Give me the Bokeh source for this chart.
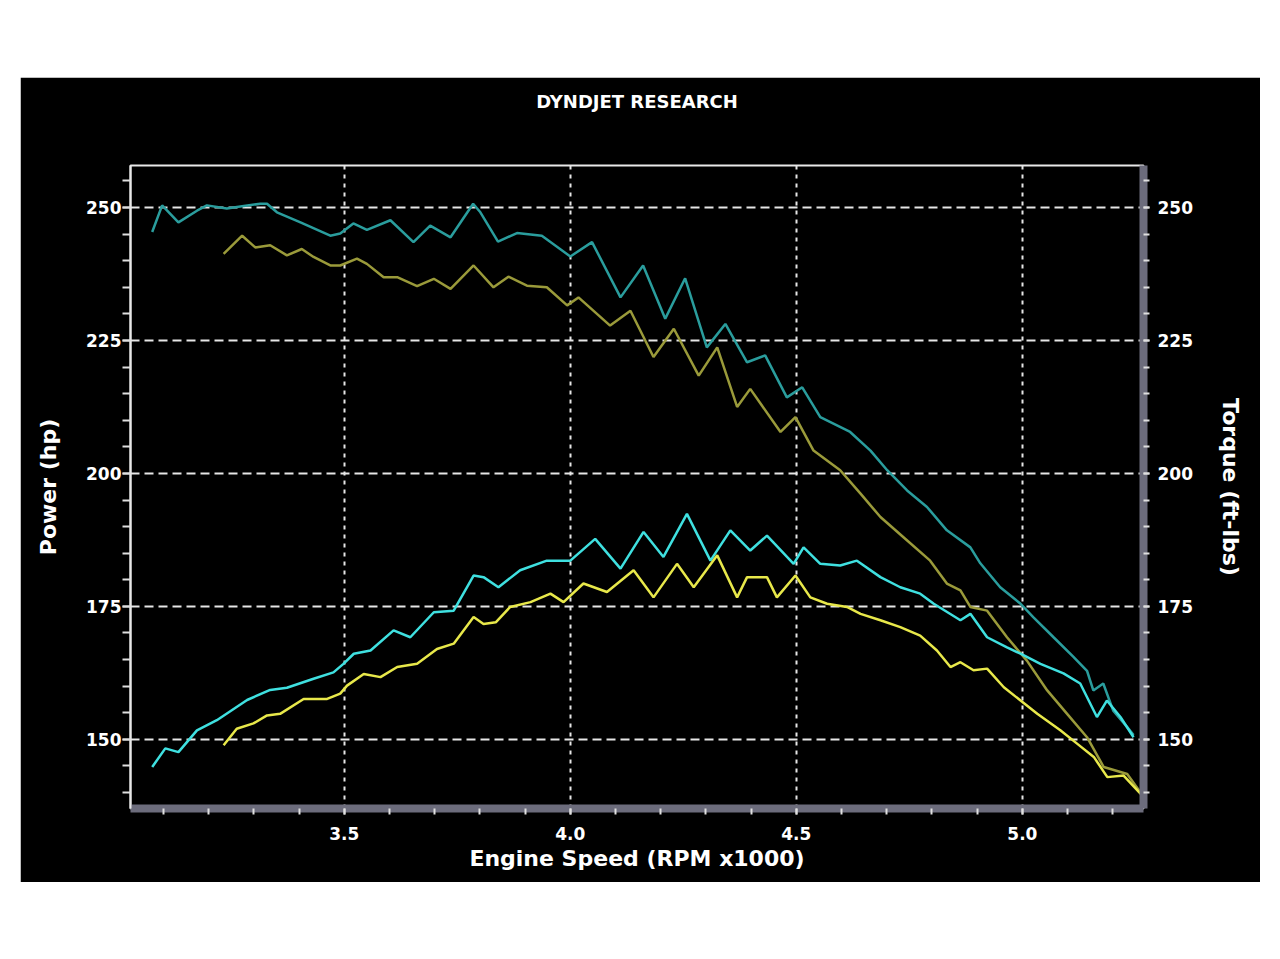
from bokeh.plotting import figure
from bokeh.models import LinearAxis, FixedTicker, Range1d, PrintfTickFormatter, Title
from bokeh.embed import file_html
from bokeh.resources import INLINE

# ---- data (RPM x1000, values) ----
rpm_torque_a = [3.075, 3.097, 3.133, 3.174, 3.196, 3.240, 3.270, 3.314, 3.329, 3.351, 3.403, 3.469,
                3.491, 3.520, 3.550, 3.602, 3.653, 3.690, 3.735, 3.785, 3.801, 3.840, 3.882, 3.937,
                4.000, 4.048, 4.111, 4.161, 4.210, 4.254, 4.302, 4.343, 4.391, 4.431, 4.479, 4.513,
                4.553, 4.619, 4.664, 4.701, 4.745, 4.789, 4.833, 4.885, 4.907, 4.951, 4.996, 5.024,
                5.069, 5.113, 5.143, 5.157, 5.179, 5.201, 5.232, 5.246]
torque_a = [245.4, 250.4, 247.2, 249.4, 250.4, 249.8, 250.2, 250.7, 250.7, 249.1, 247.2, 244.7,
            245.1, 247.0, 245.8, 247.6, 243.5, 246.6, 244.4, 250.7, 249.1, 243.6, 245.2, 244.7,
            240.8, 243.5, 233.1, 239.1, 229.1, 236.7, 223.7, 228.1, 220.9, 222.2, 214.3, 216.2,
            210.6, 207.8, 204.3, 200.6, 196.8, 193.7, 189.3, 186.1, 183.1, 178.6, 175.5, 173.0,
            169.2, 165.5, 162.9, 159.2, 160.5, 155.4, 152.3, 150.8]

rpm_torque_b = [3.233, 3.274, 3.303, 3.336, 3.373, 3.406, 3.432, 3.469, 3.491, 3.528, 3.550, 3.587,
                3.617, 3.661, 3.698, 3.735, 3.786, 3.830, 3.863, 3.904, 3.948, 3.993, 4.018, 4.088,
                4.133, 4.184, 4.229, 4.284, 4.325, 4.369, 4.398, 4.465, 4.498, 4.538, 4.597, 4.642,
                4.686, 4.737, 4.796, 4.833, 4.863, 4.885, 4.922, 4.966, 5.010, 5.055, 5.099, 5.143,
                5.180, 5.232, 5.268]
torque_b = [241.3, 244.7, 242.5, 242.9, 241.0, 242.2, 240.7, 239.1, 239.1, 240.4, 239.4, 236.9,
            236.9, 235.2, 236.6, 234.7, 239.1, 235.0, 237.0, 235.3, 235.0, 231.6, 233.1, 227.8,
            230.6, 221.9, 227.2, 218.4, 223.7, 212.5, 215.9, 207.8, 210.6, 204.3, 200.6, 196.2,
            191.8, 188.0, 183.6, 179.3, 178.0, 174.9, 174.2, 169.2, 164.8, 159.2, 154.8, 150.4,
            144.8, 143.5, 139.2]

rpm_power_a = [3.075, 3.104, 3.133, 3.174, 3.218, 3.285, 3.336, 3.373, 3.432, 3.476, 3.498, 3.521,
               3.558, 3.609, 3.646, 3.698, 3.742, 3.786, 3.808, 3.841, 3.889, 3.948, 4.000, 4.055,
               4.111, 4.162, 4.206, 4.258, 4.310, 4.354, 4.398, 4.435, 4.494, 4.516, 4.553, 4.597,
               4.634, 4.686, 4.730, 4.774, 4.804, 4.863, 4.885, 4.922, 4.966, 4.996, 5.040, 5.091,
               5.128, 5.165, 5.187, 5.217, 5.246]
power_a = [144.8, 148.3, 147.6, 151.7, 153.6, 157.4, 159.3, 159.7, 161.4, 162.6, 164.2, 166.1,
           166.7, 170.5, 169.2, 173.9, 174.2, 180.8, 180.5, 178.6, 181.8, 183.6, 183.6, 187.7,
           182.1, 189.0, 184.3, 192.4, 183.6, 189.3, 185.5, 188.3, 183.0, 186.1, 183.0, 182.7,
           183.6, 180.5, 178.6, 177.4, 175.5, 172.4, 173.6, 169.2, 167.3, 166.1, 164.2, 162.4,
           160.5, 154.2, 157.3, 154.2, 150.4]

rpm_power_b = [3.233, 3.262, 3.299, 3.329, 3.358, 3.410, 3.462, 3.491, 3.506, 3.543, 3.580, 3.617,
               3.661, 3.705, 3.742, 3.786, 3.808, 3.835, 3.867, 3.912, 3.956, 3.985, 4.029, 4.081,
               4.140, 4.184, 4.236, 4.273, 4.325, 4.369, 4.391, 4.435, 4.457, 4.498, 4.531, 4.568,
               4.612, 4.642, 4.686, 4.730, 4.774, 4.811, 4.841, 4.863, 4.892, 4.922, 4.959, 4.996,
               5.033, 5.084, 5.121, 5.158, 5.188, 5.224, 5.268]
power_b = [148.9, 152.0, 153.0, 154.5, 154.8, 157.6, 157.6, 158.6, 160.1, 162.3, 161.7, 163.6,
           164.2, 167.0, 168.0, 173.0, 171.7, 172.0, 174.9, 175.8, 177.4, 175.8, 179.3, 177.7,
           181.8, 176.7, 183.0, 178.6, 184.6, 176.7, 180.5, 180.5, 176.7, 180.8, 176.7, 175.5,
           174.9, 173.6, 172.4, 171.1, 169.5, 166.7, 163.6, 164.5, 163.0, 163.3, 159.8, 157.3,
           154.8, 151.7, 149.2, 146.7, 142.9, 143.2, 139.2]

title_text = "DYNDJET RESEARCH"
x_major_ticks = [3.5, 4.0, 4.5, 5.0]
x_minor_ticks = [round(3.0 + 0.1 * i, 1) for i in range(24)]
y_major_ticks = [150, 175, 200, 225, 250]
y_minor_ticks = list(range(140, 260, 5))

FONT = "DejaVu Sans"

p = figure(width=1240, height=805, output_backend="svg", toolbar_location=None,
           x_range=Range1d(3.027, 5.268), y_range=Range1d(137.0, 257.9),
           background_fill_color="black", border_fill_color="black",
           min_border_left=110, min_border_right=117, min_border_top=88, min_border_bottom=74,
           outline_line_color="#e8e8e8", outline_line_width=2)
p.margin = (77, 20, 77, 20)

# spacer panel between frame and title (pushes the title up)
p.add_layout(Title(text=" ", text_font_size="1px", standoff=50), "above")

# title (outermost above panel)
p.title.text = title_text
p.title.align = "center"
p.title.vertical_align = "middle"
p.title.text_color = "white"
p.title.text_font = FONT
p.title.text_font_size = "18px"
p.title.text_font_style = "bold"
p.title.standoff = 0

# grids
p.xgrid.ticker = FixedTicker(ticks=x_major_ticks)
p.ygrid.ticker = FixedTicker(ticks=y_major_ticks)
p.xgrid.grid_line_color = "#e6e6e6"
p.xgrid.grid_line_dash = "4 5"
p.xgrid.grid_line_width = 2
p.ygrid.grid_line_color = "#e6e6e6"
p.ygrid.grid_line_dash = "9 5"
p.ygrid.grid_line_width = 2

# bottom axis
xa = p.xaxis[0]
xa.ticker = FixedTicker(ticks=x_major_ticks, minor_ticks=x_minor_ticks)
xa.formatter = PrintfTickFormatter(format="%.1f")
xa.axis_label = "Engine Speed (RPM x1000)"
xa.axis_line_color = "#6c6c7c"
xa.axis_line_width = 8
xa.major_tick_in = 0
xa.major_tick_out = 6
xa.minor_tick_in = 0
xa.minor_tick_out = 6
xa.major_tick_line_color = "#e0e0e0"
xa.minor_tick_line_color = "#e0e0e0"
xa.major_tick_line_width = 2
xa.minor_tick_line_width = 2
xa.major_label_standoff = 12
xa.axis_label_standoff = 3

# left axis
ya = p.yaxis[0]
ya.ticker = FixedTicker(ticks=y_major_ticks, minor_ticks=y_minor_ticks)
ya.axis_label = "Power (hp)"
ya.axis_line_color = "#e8e8e8"
ya.axis_line_width = 2
ya.major_tick_in = 0
ya.major_tick_out = 8
ya.minor_tick_in = 0
ya.minor_tick_out = 8
ya.major_tick_line_color = "#e0e0e0"
ya.minor_tick_line_color = "#e0e0e0"
ya.major_tick_line_width = 2
ya.minor_tick_line_width = 2
ya.major_label_standoff = 1
ya.axis_label_standoff = 22

# right axis
ra = LinearAxis(ticker=FixedTicker(ticks=y_major_ticks, minor_ticks=y_minor_ticks),
                axis_label="Torque (ft-lbs)")
ra.axis_line_color = "#6c6c7c"
ra.axis_line_width = 8
ra.major_tick_in = 0
ra.major_tick_out = 6
ra.minor_tick_in = 0
ra.minor_tick_out = 6
ra.major_tick_line_color = "#e0e0e0"
ra.minor_tick_line_color = "#e0e0e0"
ra.major_tick_line_width = 2
ra.minor_tick_line_width = 2
ra.major_label_standoff = 8
ra.axis_label_standoff = 22
p.add_layout(ra, "right")

for ax in (xa, ya, ra):
    ax.major_label_text_color = "white"
    ax.major_label_text_font = FONT
    ax.major_label_text_font_size = "17px"
    ax.major_label_text_font_style = "bold"
    ax.axis_label_text_color = "white"
    ax.axis_label_text_font = FONT
    ax.axis_label_text_font_size = "22px"
    ax.axis_label_text_font_style = "bold"

# curves
p.line(rpm_torque_a, torque_a, line_color="#2a9d9d", line_width=2.5)
p.line(rpm_torque_b, torque_b, line_color="#9a9a3a", line_width=2.5)
p.line(rpm_power_a, power_a, line_color="#3fe0e0", line_width=2.5)
p.line(rpm_power_b, power_b, line_color="#e8e84a", line_width=2.5)

open("out.html", "w").write(file_html(p, INLINE))
